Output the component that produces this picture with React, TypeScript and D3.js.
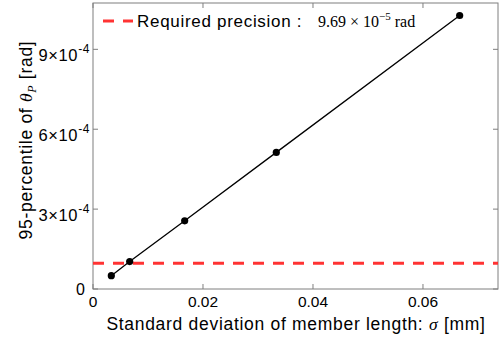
import React, { useEffect, useRef } from 'react';
import * as d3 from 'd3';

// sigma [mm] vs 95-percentile of theta_P [rad]
const sigmaValues = [0.00333, 0.00667, 0.01667, 0.03333, 0.06667];
const percentileValues = [0.5e-4, 1.03e-4, 2.56e-4, 5.13e-4, 10.27e-4];
const requiredPrecision = 9.69e-5;
const xTicks = [0, 0.02, 0.04, 0.06];
const xTickLabels = ['0', '0.02', '0.04', '0.06'];
const yTicks = [0, 3e-4, 6e-4, 9e-4];
const yTickMantissa = ['0', '3', '6', '9'];

const App: React.FC = () => {
  const svgRef = useRef<SVGSVGElement>(null);

  useEffect(() => {
    if (!svgRef.current) return;
    const svg = d3.select(svgRef.current);
    svg.selectAll('*').remove();

    const width = 500;
    const height = 340;
    const margin = { top: 3, right: 2, bottom: 51, left: 93 };
    const sans = "'Liberation Sans', Arial, sans-serif";
    const serif = "'Liberation Serif', 'DejaVu Serif', serif";

    const x = d3.scaleLinear().domain([0, 0.07364]).range([margin.left, width - margin.right]);
    const y = d3.scaleLinear().domain([0, 10.74e-4]).range([height - margin.bottom, margin.top]);

    const x0 = x.range()[0], x1 = x.range()[1];
    const y0 = y.range()[0], y1 = y.range()[1];
    const frame = '#7f7f7f';
    const tickLen = 5;

    // frame
    svg.append('rect')
      .attr('x', x0).attr('y', y1)
      .attr('width', x1 - x0).attr('height', y0 - y1)
      .attr('fill', 'none').attr('stroke', frame).attr('stroke-width', 1);

    // x ticks (bottom + top)
    xTicks.forEach((t, i) => {
      const px = x(t);
      svg.append('line').attr('x1', px).attr('x2', px).attr('y1', y0).attr('y2', y0 - tickLen)
        .attr('stroke', frame);
      svg.append('line').attr('x1', px).attr('x2', px).attr('y1', y1).attr('y2', y1 + tickLen)
        .attr('stroke', frame);
      svg.append('text').attr('x', px).attr('y', y0 + 17.5)
        .attr('text-anchor', 'middle').attr('font-family', sans).attr('font-size', 15.5)
        .attr('fill', '#000').text(xTickLabels[i]);
    });

    // y ticks (left + right)
    yTicks.forEach((t, i) => {
      const py = y(t);
      svg.append('line').attr('x1', x0).attr('x2', x0 + tickLen).attr('y1', py).attr('y2', py)
        .attr('stroke', frame);
      svg.append('line').attr('x1', x1).attr('x2', x1 - tickLen).attr('y1', py).attr('y2', py)
        .attr('stroke', frame);
      if (t === 0) {
        svg.append('text').attr('x', x0 - 8).attr('y', py + 6)
          .attr('text-anchor', 'end').attr('font-family', sans).attr('font-size', 16)
          .attr('fill', '#000').text('0');
      } else {
        const txt = svg.append('text').attr('x', x0 - 3).attr('y', py + 11.5)
          .attr('text-anchor', 'end').attr('font-family', sans).attr('font-size', 16.5)
          .attr('letter-spacing', 0.6).attr('fill', '#000');
        txt.append('tspan').text(`${yTickMantissa[i]}×10`);
        txt.append('tspan').attr('dy', -7.5).attr('font-size', 12).text('-4');
      }
    });

    // required precision line
    svg.append('line')
      .attr('x1', x0).attr('x2', x1)
      .attr('y1', y(requiredPrecision)).attr('y2', y(requiredPrecision))
      .attr('stroke', '#ff3333').attr('stroke-width', 3)
      .attr('stroke-dasharray', '11,9');

    const data: [number, number][] = sigmaValues.map((s, i) => [s, percentileValues[i]]);
    const line = d3.line<[number, number]>().x(d => x(d[0])).y(d => y(d[1]));

    svg.append('path').datum(data)
      .attr('fill', 'none').attr('stroke', '#000').attr('stroke-width', 1.3)
      .attr('d', line as any);

    svg.selectAll('.dot').data(data).enter().append('circle')
      .attr('cx', d => x(d[0])).attr('cy', d => y(d[1]))
      .attr('r', 3.6).attr('fill', '#000');

    // legend
    svg.append('line')
      .attr('x1', 103).attr('x2', 133).attr('y1', 21).attr('y2', 21)
      .attr('stroke', '#ff3333').attr('stroke-width', 3)
      .attr('stroke-dasharray', '11,9');
    svg.append('text').attr('x', 137).attr('y', 26.5)
      .attr('font-family', sans).attr('font-size', 17).attr('letter-spacing', 0.7)
      .attr('fill', '#000')
      .text('Required precision :');
    const math = svg.append('text').attr('x', 318).attr('y', 26.5)
      .attr('font-family', serif).attr('font-size', 16).attr('fill', '#000');
    math.append('tspan').text('9.69 × 10');
    math.append('tspan').attr('dy', -7).attr('font-size', 11).text('−5');
    math.append('tspan').attr('dy', 7).text(' rad');

    // axis labels
    const xl = svg.append('text').attr('x', 296).attr('y', 330)
      .attr('text-anchor', 'middle').attr('font-family', sans).attr('font-size', 17.5)
      .attr('letter-spacing', 0.7).attr('fill', '#000');
    xl.append('tspan').text('Standard deviation of member length: ');
    xl.append('tspan').attr('font-family', serif).attr('font-style', 'italic').text('σ');
    xl.append('tspan').text(' [mm]');

    const yl = svg.append('text')
      .attr('transform', 'translate(32,140) rotate(-90)')
      .attr('text-anchor', 'middle').attr('font-family', sans).attr('font-size', 17.5)
      .attr('letter-spacing', 0.7).attr('fill', '#000');
    yl.append('tspan').text('95-percentile of ');
    yl.append('tspan').attr('font-family', serif).attr('font-style', 'italic').text('θ');
    yl.append('tspan').attr('font-family', serif).attr('font-style', 'italic')
      .attr('font-size', 12).attr('dy', 4).text('P');
    yl.append('tspan').attr('dy', -4).text(' [rad]');
  }, []);

  return (
    <svg ref={svgRef} width={500} height={340} viewBox="0 0 500 340"
      style={{ position: 'absolute', left: 0, top: 0, background: '#fff' }} />
  );
};

export default App;
